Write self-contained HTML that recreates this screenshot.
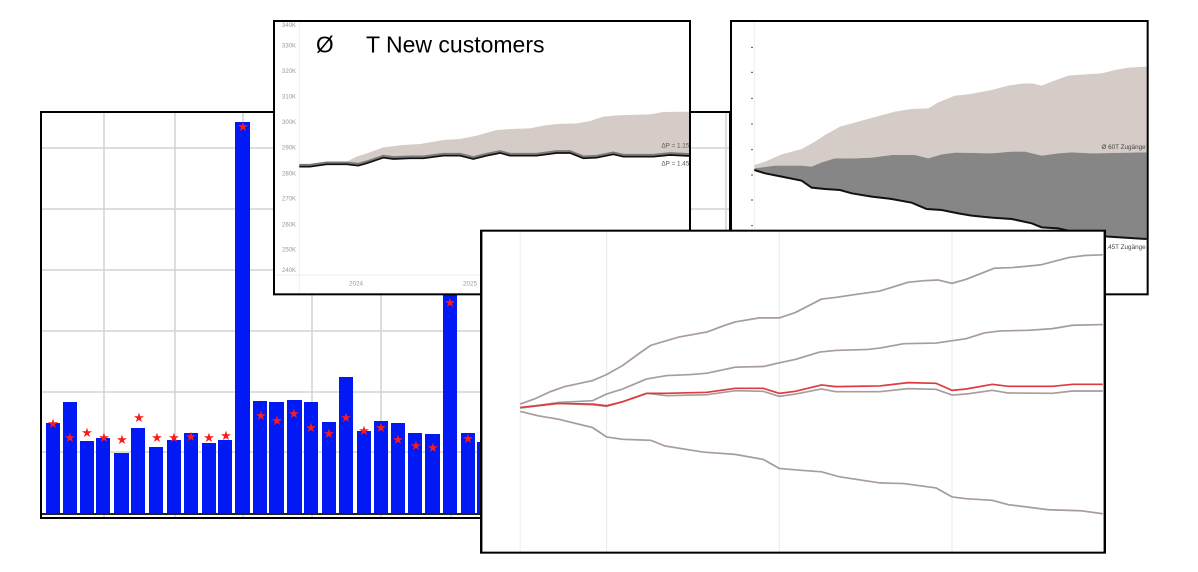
<!DOCTYPE html>
<html><head><meta charset="utf-8"><style>
html,body{margin:0;padding:0;background:#fff;width:1198px;height:572px;overflow:hidden}
svg{position:absolute;left:0;top:0}
</style></head><body>
<svg width="1198" height="572" viewBox="0 0 1198 572" xmlns="http://www.w3.org/2000/svg" style="font-family:'Liberation Sans',sans-serif">
<!-- LEFT PANEL -->
<g>
<rect x="41" y="112" width="689" height="406" fill="#fff"/>
<g stroke="#d4d4d4" stroke-width="1.5">
<line x1="42" y1="148" x2="729" y2="148"/><line x1="42" y1="209" x2="729" y2="209"/>
<line x1="42" y1="270" x2="729" y2="270"/><line x1="42" y1="331" x2="729" y2="331"/>
<line x1="42" y1="392" x2="729" y2="392"/><line x1="42" y1="452" x2="729" y2="452"/>
<line x1="104" y1="113" x2="104" y2="517"/><line x1="175" y1="113" x2="175" y2="517"/>
<line x1="243" y1="113" x2="243" y2="517"/><line x1="312" y1="113" x2="312" y2="517"/>
<line x1="381" y1="113" x2="381" y2="517"/><line x1="451" y1="113" x2="451" y2="517"/>
<line x1="726" y1="113" x2="726" y2="517"/>
</g>
<g fill="#0019f5">
<rect x="46" y="423" width="14" height="91"/><rect x="63" y="402" width="14" height="112"/>
<rect x="80" y="441" width="14" height="73"/><rect x="96" y="438" width="14" height="76"/>
<rect x="114" y="453" width="15" height="61"/><rect x="131" y="428" width="14" height="86"/>
<rect x="149" y="447" width="14" height="67"/><rect x="167" y="440" width="14" height="74"/>
<rect x="184" y="433" width="14" height="81"/><rect x="202" y="443" width="14" height="71"/>
<rect x="218" y="440" width="14" height="74"/><rect x="235" y="122" width="15" height="392"/>
<rect x="253" y="401" width="14" height="113"/><rect x="269" y="402" width="15" height="112"/>
<rect x="287" y="400" width="15" height="114"/><rect x="304" y="402" width="14" height="112"/>
<rect x="322" y="422" width="14" height="92"/><rect x="339" y="377" width="14" height="137"/>
<rect x="357" y="431" width="14" height="83"/><rect x="374" y="421" width="14" height="93"/>
<rect x="391" y="423" width="14" height="91"/><rect x="408" y="433" width="14" height="81"/>
<rect x="425" y="434" width="15" height="80"/><rect x="443" y="280" width="14" height="234"/>
<rect x="461" y="433" width="14" height="81"/><rect x="477" y="442" width="14" height="72"/>
</g>
<g fill="#ff1a1a" font-size="13" text-anchor="middle">
<text x="53" y="428">★</text><text x="70" y="442">★</text><text x="87" y="437">★</text>
<text x="104" y="442">★</text><text x="122" y="444">★</text><text x="139" y="422">★</text>
<text x="157" y="442">★</text><text x="174" y="442">★</text><text x="191" y="441">★</text>
<text x="209" y="442">★</text><text x="226" y="440">★</text><text x="243" y="131">★</text>
<text x="261" y="420">★</text><text x="277" y="425">★</text><text x="294" y="418">★</text>
<text x="311" y="432">★</text><text x="329" y="438">★</text><text x="346" y="422">★</text>
<text x="364" y="435">★</text><text x="381" y="432">★</text><text x="398" y="444">★</text>
<text x="416" y="450">★</text><text x="433" y="452">★</text><text x="450" y="307">★</text>
<text x="468" y="443">★</text>
</g>
<line x1="41" y1="514" x2="729" y2="514" stroke="#222" stroke-width="2"/>
<rect x="41" y="112" width="689" height="406" fill="none" stroke="#000" stroke-width="2"/>
</g>

<!-- TOP-MIDDLE PANEL -->
<svg x="270" y="15" width="430" height="285" viewBox="0 0 1290 855" preserveAspectRatio="none">
<rect x="12" y="18" width="1248" height="820" fill="#fff"/>
<line x1="88" y1="20" x2="88" y2="836" stroke="#eee" stroke-width="3"/>
<line x1="14" y1="780" x2="1258" y2="780" stroke="#eee" stroke-width="3"/>
<g font-size="18" fill="#999" text-anchor="end">
<text x="78" y="36">340K</text><text x="78" y="98">330K</text><text x="78" y="174">320K</text>
<text x="78" y="250">310K</text><text x="78" y="327">300K</text><text x="78" y="404">290K</text>
<text x="78" y="481">280K</text><text x="78" y="557">270K</text><text x="78" y="634">260K</text>
<text x="78" y="710">250K</text><text x="78" y="771">240K</text>
</g>
<g font-size="19" fill="#999" text-anchor="middle"><text x="258" y="812">2024</text><text x="600" y="812">2025</text></g>
<path d="M88,453 L120,452 170,445 230,440 260,425 290,415 340,397 400,390 450,387 520,375 570,372 620,362 680,345 720,342 780,340 820,332 860,327 920,325 960,318 1000,305 1040,301 1140,298 1180,291 1260,290 L1260,423 1200,420 1150,425 1060,425 1030,418 980,428 940,430 900,414 860,414 800,422 720,422 690,414 650,422 610,432 570,422 520,422 460,430 420,430 370,432 340,428 290,445 265,452 230,448 170,448 120,455 88,455Z" fill="#d6ccc7"/>
<path d="M88,455 L120,455 170,448 230,448 265,452 290,445 340,428 370,432 420,430 460,430 520,422 570,422 610,432 650,422 690,414 720,422 800,422 860,414 900,414 940,430 980,428 1030,418 1060,425 1150,425 1200,420 1260,423" fill="none" stroke="#7a7a7a" stroke-width="9" transform="translate(0,-4)"/>
<path d="M88,455 L120,455 170,448 230,448 265,452 290,445 340,428 370,432 420,430 460,430 520,422 570,422 610,432 650,422 690,414 720,422 800,422 860,414 900,414 940,430 980,428 1030,418 1060,425 1150,425 1200,420 1260,423" fill="none" stroke="#111" stroke-width="5"/>
<g font-size="19" fill="#555" text-anchor="end"><text x="1258" y="398">ΔP = 1.15</text><text x="1258" y="452">ΔP = 1.45</text></g>
<text x="138" y="112" font-size="68" fill="#000">Ø</text>
<text x="288" y="112" font-size="69" fill="#000">T New customers</text>
<rect x="12" y="18" width="1248" height="820" fill="none" stroke="#000" stroke-width="6"/>
</svg>

<!-- TOP-RIGHT PANEL -->
<svg x="725" y="15" width="430" height="285" viewBox="0 0 1290 855" preserveAspectRatio="none">
<rect x="18" y="18" width="1250" height="820" fill="#fff"/>
<line x1="88" y1="20" x2="88" y2="836" stroke="#eee" stroke-width="3"/>
<g stroke="#555" stroke-width="3">
<line x1="78" y1="97" x2="84" y2="97"/><line x1="78" y1="172" x2="84" y2="172"/><line x1="78" y1="250" x2="84" y2="250"/>
<line x1="78" y1="327" x2="84" y2="327"/><line x1="78" y1="404" x2="84" y2="404"/><line x1="78" y1="480" x2="84" y2="480"/>
<line x1="78" y1="555" x2="84" y2="555"/><line x1="78" y1="632" x2="84" y2="632"/>
</g>
<path d="M88,450 L120,440 170,418 230,402 270,380 300,360 345,335 400,320 450,306 510,290 560,282 610,280 640,262 690,242 730,238 800,225 850,212 890,206 920,205 950,212 980,200 1030,182 1080,178 1130,175 1170,165 1210,158 1265,155 L1265,412 1100,415 1040,412 1000,415 950,422 900,410 860,410 800,415 690,413 650,418 610,430 570,420 500,420 440,428 390,430 330,430 290,442 260,455 230,452 150,452 88,460Z" fill="#d6ccc7"/>
<path d="M88,460 L150,452 230,452 260,455 290,442 330,430 390,430 440,428 500,420 570,420 610,430 650,418 690,413 800,415 860,410 900,410 950,422 1000,415 1040,412 1100,415 1265,412 L1265,672 1150,665 1100,660 1050,652 1000,640 950,637 920,625 860,612 800,608 740,602 700,595 650,585 605,582 560,563 500,552 440,545 380,535 345,525 300,522 260,518 230,497 170,485 120,475 88,465Z" fill="#868686"/>
<path d="M88,465 L120,475 170,485 230,497 260,518 300,522 345,525 380,535 440,545 500,552 560,563 605,582 650,585 700,595 740,602 800,608 860,612 920,625 950,637 1000,640 1050,652 1100,660 1150,665 1265,672" fill="none" stroke="#111" stroke-width="6"/>
<g font-size="19" fill="#444" text-anchor="end"><text x="1262" y="402">Ø 60T Zugänge</text><text x="1262" y="702">.45T Zugänge</text></g>
<rect x="18" y="18" width="1250" height="820" fill="none" stroke="#000" stroke-width="6"/>
</svg>

<!-- BOTTOM-RIGHT PANEL -->
<svg x="478" y="228" width="630" height="326" viewBox="0 0 1568 972" preserveAspectRatio="none">
<rect x="8" y="8" width="1552" height="960" fill="#fff"/>
<g stroke="#eee" stroke-width="3"><line x1="105" y1="10" x2="105" y2="966"/><line x1="320" y1="10" x2="320" y2="966"/><line x1="750" y1="10" x2="750" y2="966"/><line x1="1180" y1="10" x2="1180" y2="966"/></g>
<g fill="none" stroke="#a89c9c" stroke-width="5">
<path d="M105,525 L140,510 180,488 215,473 285,455 320,437 360,410 400,375 430,350 500,325 570,310 610,292 640,280 700,268 750,268 790,252 855,212 890,207 940,198 1000,188 1070,162 1110,157 1145,155 1180,165 1215,153 1285,120 1330,118 1400,110 1470,88 1510,82 1555,80"/>
<path d="M105,537 L200,520 285,515 320,495 360,480 420,450 470,440 530,437 570,433 640,415 710,413 750,402 790,392 850,370 890,365 970,362 1000,358 1060,345 1140,343 1215,330 1260,313 1300,307 1370,305 1430,300 1480,290 1555,288"/>
<path d="M105,537 L200,523 285,527 320,532 360,518 420,493 470,500 570,497 640,485 710,487 750,502 790,495 855,480 890,488 1000,488 1070,479 1140,481 1180,498 1215,495 1280,484 1320,492 1430,493 1480,486 1555,486"/>
<path d="M105,547 L150,560 200,570 285,595 320,623 360,630 430,633 465,650 560,668 640,675 710,690 750,717 800,722 855,727 900,742 1000,760 1060,762 1140,775 1180,802 1215,807 1280,812 1320,825 1420,840 1500,843 1555,852"/>
</g>
<path d="M105,535 L200,523 285,525 320,530 360,518 420,493 470,493 570,490 640,478 710,478 750,493 790,487 855,468 890,473 1000,471 1070,461 1140,463 1180,484 1215,480 1280,466 1320,472 1430,472 1480,466 1555,466" fill="none" stroke="#dd3b3f" stroke-width="5"/>
<rect x="8" y="8" width="1552" height="960" fill="none" stroke="#000" stroke-width="6"/>
</svg>
</svg>
</body></html>
